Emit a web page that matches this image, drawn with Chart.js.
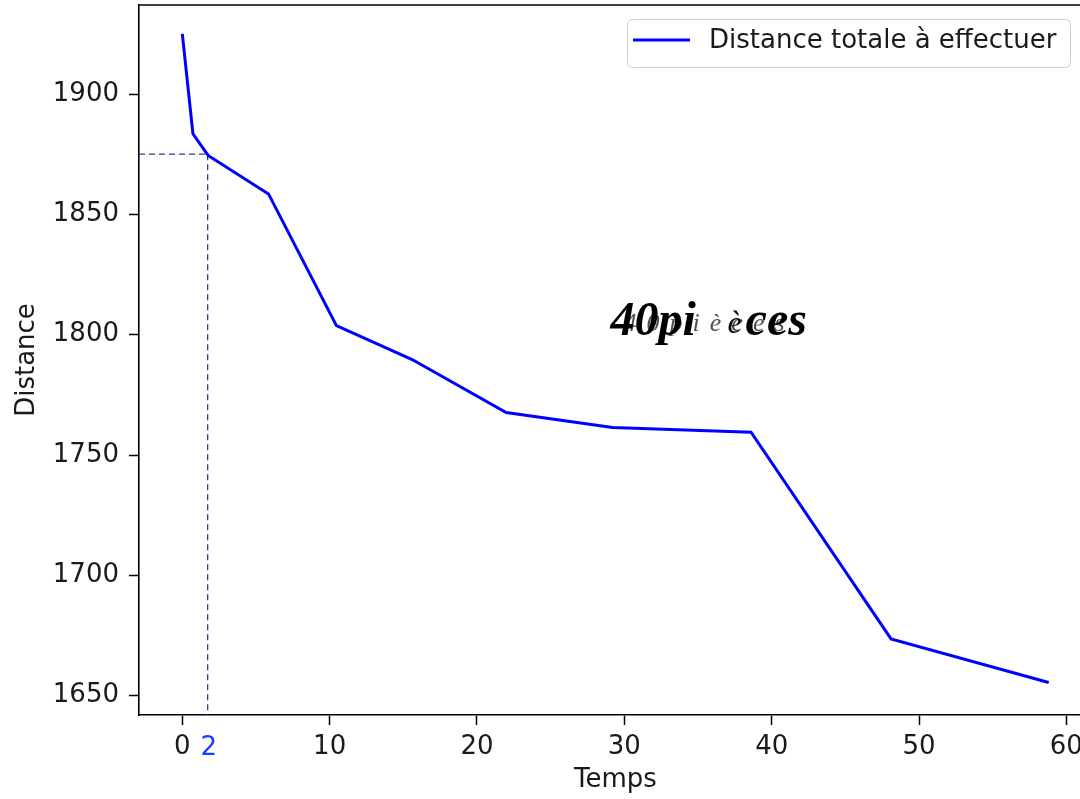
<!DOCTYPE html>
<html>
<head>
<meta charset="utf-8">
<script src="https://cdn.jsdelivr.net/npm/chart.js@4.4.1/dist/chart.umd.min.js"></script>
<style>
  html, body { margin: 0; padding: 0; background: #fff; overflow: hidden; }
  #wrap { width: 1080px; height: 799px; overflow: hidden; }
</style>
</head>
<body>
<div id="wrap"><canvas id="chart" width="1100" height="799"></canvas></div>
<script>
// distance totale en fonction du temps
const temps = [0, 0.72, 1.75, 5.85, 10.46, 15.6, 21.98, 29.2, 38.6, 48.1, 58.8]
const distances = [1925, 1883.5, 1874.5, 1858.5, 1803.8, 1789.7, 1767.7, 1761.5, 1759.5, 1673.6, 1655.5]
const xTicks = [0, 10, 20, 30, 40, 50, 60]
const yTicks = [1650, 1700, 1750, 1800, 1850, 1900]
const serieLabel = 'Distance totale à effectuer'

// repère en pointillés
const repereT = 1.72
const repereD = 1875
const repereLabel = '2'

// annotation
const noteT = 29
const noteD = 1800
const noteText = '40pièces'

const FONT = "'DejaVu Sans', sans-serif"

const decor = {
  id: 'decor',
  beforeDatasetsDraw(chart) {
    const ctx = chart.ctx
    const area = chart.chartArea
    const xs = chart.scales.x, ys = chart.scales.y
    const px = xs.getPixelForValue(repereT)
    const py = ys.getPixelForValue(repereD)
    ctx.save()
    ctx.strokeStyle = '#33399a'
    ctx.lineWidth = 1.3
    ctx.setLineDash([6, 4])
    ctx.beginPath()
    ctx.moveTo(area.left, py)
    ctx.lineTo(px, py)
    ctx.moveTo(px, py)
    ctx.lineTo(px, area.bottom)
    ctx.stroke()
    ctx.restore()
  },
  afterDraw(chart) {
    const ctx = chart.ctx
    const area = chart.chartArea
    const xs = chart.scales.x, ys = chart.scales.y
    ctx.save()

    // cadre haut
    ctx.strokeStyle = '#000'
    ctx.lineWidth = 1.6
    ctx.beginPath()
    ctx.moveTo(area.left, area.top)
    ctx.lineTo(area.right, area.top)
    ctx.stroke()

    // label du repère sur l'axe x
    ctx.fillStyle = '#1a3cff'
    ctx.font = '26px ' + FONT
    ctx.textAlign = 'center'
    ctx.textBaseline = 'top'
    ctx.fillText(repereLabel, xs.getPixelForValue(repereT) + 1, area.bottom + 20)

    // légende
    const bx = 627, by = area.top + 14, bw = 443, bh = 48
    ctx.fillStyle = 'rgba(255,255,255,0.8)'
    ctx.strokeStyle = '#cccccc'
    ctx.lineWidth = 1
    ctx.beginPath()
    ctx.roundRect(bx + 0.5, by + 0.5, bw, bh, 5)
    ctx.fill()
    ctx.stroke()
    ctx.strokeStyle = chart.data.datasets[0].borderColor
    ctx.lineWidth = 3
    ctx.beginPath()
    ctx.moveTo(633, by + 21)
    ctx.lineTo(690, by + 21)
    ctx.stroke()
    ctx.fillStyle = '#1a1a1a'
    ctx.textAlign = 'left'
    ctx.textBaseline = 'middle'
    ctx.font = '26px ' + FONT
    ctx.fillText(chart.data.datasets[0].label, 709, by + 22)

    // texte "40pièces" superposé
    const ax = xs.getPixelForValue(noteT)
    const ay = ys.getPixelForValue(noteD)
    ctx.textBaseline = 'alphabetic'
    ctx.fillStyle = 'rgba(0,0,0,0.7)'
    ctx.font = "italic 26px 'Liberation Serif', serif"
    let cx = ax + 14
    for (const ch of noteText) {
      ctx.fillText(ch, cx, ay - 4)
      cx += ctx.measureText(ch).width + 10
    }
    ctx.fillStyle = '#000'
    ctx.font = "italic bold 48px 'Liberation Serif', serif"
    ctx.fillText(noteText.slice(0, 4), ax + 1, ay)
    ctx.font = "italic 32px 'Liberation Serif', serif"
    ctx.fillText(noteText.slice(4, 5), ax + 118, ay - 2)
    ctx.font = "italic bold 48px 'Liberation Serif', serif"
    ctx.fillText(noteText.slice(5), ax + 136, ay)
    ctx.restore()
  }
}

const tickFont = { family: FONT, size: 26 }
const noPad = s => { s.paddingTop = 0; s.paddingBottom = 0; s.paddingLeft = 0; s.paddingRight = 0 }

new Chart(document.getElementById('chart'), {
  type: 'line',
  data: {
    datasets: [{
      label: serieLabel,
      data: temps.map((t, i) => ({ x: t, y: distances[i] })),
      borderColor: '#0000ff',
      borderWidth: 3,
      pointRadius: 0,
      tension: 0,
      fill: false
    }]
  },
  options: {
    responsive: false,
    animation: false,
    devicePixelRatio: 1,
    layout: { padding: { left: 0, top: 5, right: 8, bottom: 0 } },
    plugins: { legend: { display: false }, tooltip: { enabled: false } },
    scales: {
      x: {
        type: 'linear',
        min: -2.94,
        max: 61.74,
        afterBuildTicks: s => { s.ticks = xTicks.map(v => ({ value: v })) },
        afterFit: s => { s.height = 84; noPad(s) },
        grid: { drawOnChartArea: false, drawTicks: true, tickLength: 10, tickColor: '#000', tickWidth: 1.5 },
        border: { color: '#000', width: 1.6 },
        ticks: { color: '#1a1a1a', font: tickFont, padding: 7, maxRotation: 0, autoSkip: false, callback: v => String(v) },
        title: { display: true, text: 'Temps', color: '#1a1a1a', font: tickFont, padding: { top: 0, bottom: 3 } }
      },
      y: {
        type: 'linear',
        min: 1642,
        max: 1937,
        afterBuildTicks: s => { s.ticks = yTicks.map(v => ({ value: v })) },
        afterFit: s => { s.width = 139; noPad(s) },
        grid: { drawOnChartArea: false, drawTicks: true, tickLength: 10, tickColor: '#000', tickWidth: 1.5 },
        border: { color: '#000', width: 1.6 },
        ticks: { color: '#1a1a1a', font: tickFont, padding: 10, autoSkip: false, callback: v => String(v) },
        title: { display: true, text: 'Distance', color: '#1a1a1a', font: tickFont, padding: { top: 12, bottom: 0 } }
      }
    }
  },
  plugins: [decor]
})
</script>
</body>
</html>
